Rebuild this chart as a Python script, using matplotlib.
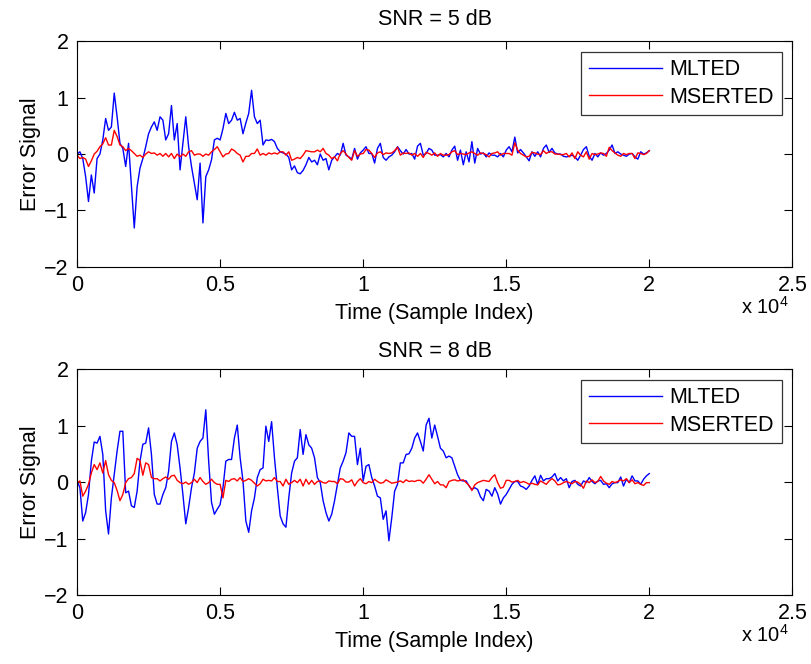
import numpy as np
import matplotlib
matplotlib.use("agg")
import matplotlib.pyplot as plt

plt.rcParams['font.family'] = ['Liberation Sans', 'DejaVu Sans']
plt.rcParams['mathtext.default'] = 'regular'

# sample step of the traces (sample index)
step = 100

# SNR = 5 dB
mlted_5 = [
    0.0, 0.04, -0.08, -0.4, -0.84, -0.37, -0.69, -0.08, 0.0, 0.25,
    0.63, 0.42, 0.48, 1.08, 0.66, 0.19, 0.1, -0.22, 0.19, -0.55,
    -1.31, -0.58, -0.25, -0.08, 0.13, 0.36, 0.48, 0.57, 0.42, 0.66,
    0.6, 0.25, 0.36, 0.86, 0.25, 0.54, -0.28, 0.19, 0.66, 0.13,
    -0.22, -0.52, -0.81, -0.16, -1.22, -0.4, -0.28, -0.1, 0.25, 0.28,
    0.25, 0.45, 0.72, 0.54, 0.6, 0.74, 0.6, 0.63, 0.36, 0.55,
    0.72, 1.13, 0.66, 0.54, 0.6, 0.16, 0.25, 0.24, 0.26, 0.22,
    0.1, 0.04, 0.02, 0.0, -0.06, -0.28, -0.21, -0.33, -0.35, -0.29,
    -0.19, -0.06, -0.14, -0.11, -0.19, 0.0, -0.11, -0.08, -0.28, -0.11,
    -0.05, 0.01, -0.02, 0.19, -0.02, -0.05, -0.09, 0.1, -0.09, 0.02,
    0.07, 0.13, 0.01, 0.01, -0.16, 0.1, 0.19, -0.06, -0.11, -0.05,
    -0.02, 0.04, 0.13, 0.06, 0.0, 0.08, 0.0, 0.01, -0.09, 0.14,
    0.19, -0.02, 0.01, 0.1, 0.07, -0.02, -0.02, -0.01, -0.05, 0.01,
    -0.05, 0.07, 0.14, -0.11, 0.07, -0.19, 0.04, -0.14, 0.22, -0.16,
    0.1, 0.0, 0.02, -0.05, 0.02, -0.02, -0.02, -0.05, 0.01, -0.05,
    0.07, 0.13, 0.04, 0.3, 0.02, 0.08, 0.02, -0.05, -0.12, 0.04,
    -0.04, 0.04, -0.05, 0.1, 0.16, 0.03, 0.1, 0.02, 0.0, 0.0,
    -0.04, -0.05, -0.04, -0.02, -0.05, -0.11, -0.02, 0.08, 0.13, -0.04,
    -0.11, 0.01, -0.05, 0.02, -0.02, 0.01, 0.07, 0.16, 0.01, 0.04,
    0.0, -0.02, -0.04, 0.0, 0.01, -0.05, -0.09, 0.04, 0.0, 0.02, 0.06,
]
mserted_5 = [
    -0.02, -0.08, -0.06, -0.09, -0.22, -0.12, 0.0, 0.05, 0.13, 0.18,
    0.29, 0.16, 0.16, 0.42, 0.31, 0.16, 0.13, 0.06, 0.1, 0.06,
    0.01, -0.04, -0.02, -0.06, 0.0, 0.04, 0.01, 0.02, -0.02, 0.01,
    -0.04, 0.01, -0.05, 0.01, -0.08, 0.0, -0.05, 0.0, -0.04, 0.04,
    0.06, -0.02, 0.0, 0.0, -0.04, 0.0, -0.02, 0.04, 0.08, 0.13,
    0.04, -0.05, 0.0, 0.01, 0.09, 0.06, 0.01, -0.02, -0.14, -0.04,
    -0.04, 0.01, 0.01, 0.09, -0.02, 0.01, -0.02, 0.02, 0.0, 0.02,
    0.0, 0.04, 0.04, -0.02, 0.04, -0.11, -0.09, -0.06, -0.08, -0.02,
    0.06, 0.05, 0.04, 0.04, 0.07, 0.04, 0.1, 0.01, -0.02, -0.08,
    -0.05, -0.12, 0.01, 0.06, 0.0, -0.06, -0.11, 0.06, -0.04, 0.0,
    0.01, 0.08, 0.07, 0.01, -0.06, 0.02, 0.04, -0.01, 0.02, 0.01,
    0.02, 0.06, 0.12, -0.02, 0.02, 0.01, 0.02, -0.02, 0.01, -0.04,
    0.01, -0.06, 0.03, 0.01, -0.02, 0.02, -0.04, 0.01, -0.02, -0.02,
    -0.01, 0.04, 0.06, -0.01, 0.01, 0.0, -0.01, 0.02, 0.04, 0.01,
    -0.02, 0.02, 0.01, -0.01, -0.05, 0.01, 0.02, 0.04, -0.02, 0.01,
    0.01, 0.01, -0.02, 0.2, 0.07, 0.01, -0.02, -0.05, -0.04, 0.03,
    0.02, 0.0, -0.01, 0.06, 0.01, 0.04, 0.04, 0.0, 0.0, -0.01,
    -0.01, 0.01, -0.05, 0.02, -0.08, 0.04, -0.02, -0.05, 0.04, -0.09,
    0.01, -0.01, 0.0, 0.02, 0.01, -0.04, 0.12, 0.06, 0.02, -0.02,
    -0.04, 0.01, -0.01, 0.01, 0.01, -0.08, 0.02, 0.01, -0.01, 0.01, 0.06,
]

# SNR = 8 dB
mlted_8 = [
    0.02, -0.1, -0.69, -0.54, -0.22, 0.37, 0.71, 0.69, 0.81, 0.49,
    -0.51, -0.92, -0.28, 0.13, 0.55, 0.9, 0.9, -0.19, -0.16, -0.42,
    -0.45, -0.16, 0.37, 0.67, 0.69, 0.96, 0.49, -0.22, -0.39, -0.39,
    -0.22, -0.1, 0.19, 0.72, 0.87, 0.66, 0.25, -0.22, -0.74, -0.45,
    -0.1, 0.16, 0.6, 0.72, 0.78, 1.28, 0.37, -0.36, -0.57, -0.48,
    -0.4, -0.1, 0.37, 0.4, 0.4, 0.78, 1.01, 0.43, 0.02, -0.69,
    -0.89, -0.51, -0.28, 0.08, 0.22, 0.25, 0.99, 0.72, 1.07, 0.43,
    -0.1, -0.6, -0.74, -0.8, -0.28, 0.16, 0.37, 0.43, 0.93, 0.49,
    0.84, 0.66, 0.6, 0.43, 0.08, -0.01, -0.33, -0.54, -0.69, -0.57,
    -0.33, -0.04, 0.25, 0.37, 0.52, 0.87, 0.81, 0.81, 0.31, 0.6,
    0.02, 0.28, 0.31, 0.08, -0.07, -0.25, -0.28, -0.66, -0.51, -1.04,
    -0.63, -0.16, -0.04, 0.34, 0.34, 0.49, 0.5, 0.6, 0.78, 0.87,
    0.72, 0.55, 1.01, 1.13, 0.78, 1.01, 0.81, 0.6, 0.55, 0.43,
    0.46, 0.43, 0.28, 0.13, 0.03, 0.02, 0.02, -0.07, -0.13, -0.1,
    -0.13, -0.26, -0.33, -0.13, -0.16, -0.25, -0.1, -0.21, -0.39, -0.28,
    -0.22, -0.13, -0.04, 0.01, 0.01, -0.07, -0.09, -0.13, -0.07, 0.03,
    0.11, -0.04, 0.12, 0.02, 0.06, 0.06, 0.09, 0.15, 0.02, 0.08,
    0.02, 0.06, -0.1, 0.01, 0.03, -0.04, -0.07, 0.02, -0.01, 0.08,
    0.01, -0.03, 0.02, 0.03, -0.04, -0.03, -0.1, -0.03, -0.01, -0.01,
    0.09, -0.07, 0.05, -0.01, 0.11, 0.02, 0.02, -0.04, 0.05, 0.11, 0.15,
]
mserted_8 = [
    -0.01, 0.02, -0.25, -0.16, -0.04, 0.16, 0.31, 0.22, 0.34, 0.16,
    0.38, 0.13, 0.03, -0.01, -0.15, -0.33, -0.22, -0.01, 0.06, 0.08,
    0.15, 0.42, 0.38, 0.12, 0.34, 0.31, 0.08, 0.06, 0.06, 0.02,
    0.06, 0.09, 0.05, 0.11, 0.12, 0.03, -0.01, -0.03, 0.0, -0.04,
    -0.01, 0.05, -0.01, 0.08, 0.01, -0.04, -0.01, 0.05, -0.01, -0.04,
    -0.04, -0.28, 0.03, 0.01, 0.05, 0.06, 0.02, 0.08, 0.01, 0.03,
    0.06, 0.03, -0.02, -0.07, -0.03, 0.05, 0.02, 0.03, 0.02, 0.08,
    0.01, 0.01, -0.07, 0.05, -0.04, -0.01, 0.03, -0.01, 0.05, -0.07,
    0.05, -0.04, 0.03, -0.04, 0.01, 0.02, -0.01, -0.02, 0.02, 0.01,
    0.01, -0.03, 0.06, 0.05, 0.0, 0.0, 0.04, -0.07, 0.01, 0.06,
    -0.01, -0.03, 0.01, -0.01, 0.05, 0.01, -0.02, -0.01, 0.04, 0.01,
    -0.02, -0.01, 0.0, 0.02, -0.01, 0.04, 0.01, 0.02, 0.01, 0.03,
    0.03, -0.02, 0.05, 0.13, 0.05, -0.03, 0.01, -0.05, -0.05, -0.1,
    0.01, 0.03, 0.04, 0.02, 0.03, 0.04, -0.01, -0.06, -0.15, -0.05,
    -0.01, 0.01, 0.03, 0.02, 0.01, 0.08, 0.13, -0.01, -0.11, -0.09,
    0.03, 0.03, 0.0, 0.01, 0.03, -0.01, 0.01, -0.01, -0.04, -0.02,
    -0.04, -0.05, 0.02, -0.01, -0.04, 0.02, 0.06, 0.02, -0.05, -0.04,
    -0.01, 0.01, -0.01, -0.03, 0.01, 0.0, -0.04, -0.11, 0.02, -0.01,
    0.04, -0.01, 0.01, 0.1, 0.02, -0.02, -0.04, 0.01, -0.01, 0.01,
    0.04, 0.02, 0.06, -0.01, 0.04, -0.03, -0.01, -0.04, -0.06, -0.01, -0.01,
]

panels = [("SNR = 5 dB", mlted_5, mserted_5, 12), ("SNR = 8 dB", mlted_8, mserted_8, 9)]
xticks = [0, 5000, 10000, 15000, 20000, 25000]
xticklabels = ["0", "0.5", "1", "1.5", "2", "2.5"]
yticks = [-2, -1, 0, 1, 2]

fs = 15.5
fig = plt.figure(figsize=(8.11, 6.64), dpi=100)
rects = [[0.095, 0.598, 0.882, 0.340], [0.095, 0.104, 0.882, 0.340]]

for rect, (title, blue, red, tpad) in zip(rects, panels):
    ax = fig.add_axes(rect)
    x = np.arange(len(blue)) * step
    ax.plot(x, blue, color=(0, 0, 1), lw=1.0, label="MLTED")
    ax.plot(x, red, color=(1, 0, 0), lw=1.0, label="MSERTED")
    ax.set_xlim(0, 25000)
    ax.set_ylim(-2, 2)
    ax.set_xticks(xticks)
    ax.set_xticklabels(xticklabels)
    ax.set_yticks(yticks)
    ax.tick_params(direction="in", length=6, width=0.8, top=True, right=True,
                   labelsize=fs, pad=6)
    for s in ax.spines.values():
        s.set_linewidth(0.8)
    ax.set_title(title, fontsize=fs, pad=tpad)
    ax.set_xlabel("Time (Sample Index)", fontsize=fs, labelpad=5)
    ax.set_ylabel("Error Signal", fontsize=fs, labelpad=2)
    ax.text(0.995, -0.175, r"x 10$^{4}$", transform=ax.transAxes, ha="right",
            va="center", fontsize=fs - 1)
    leg = ax.legend(loc="upper right", fontsize=fs, frameon=True, fancybox=False,
                    borderpad=0.35, labelspacing=0.3, handlelength=3.4,
                    handletextpad=0.35, borderaxespad=0.5)
    leg.get_frame().set_edgecolor("black")
    leg.get_frame().set_linewidth(0.9)

fig.savefig("out.png", dpi=100)
